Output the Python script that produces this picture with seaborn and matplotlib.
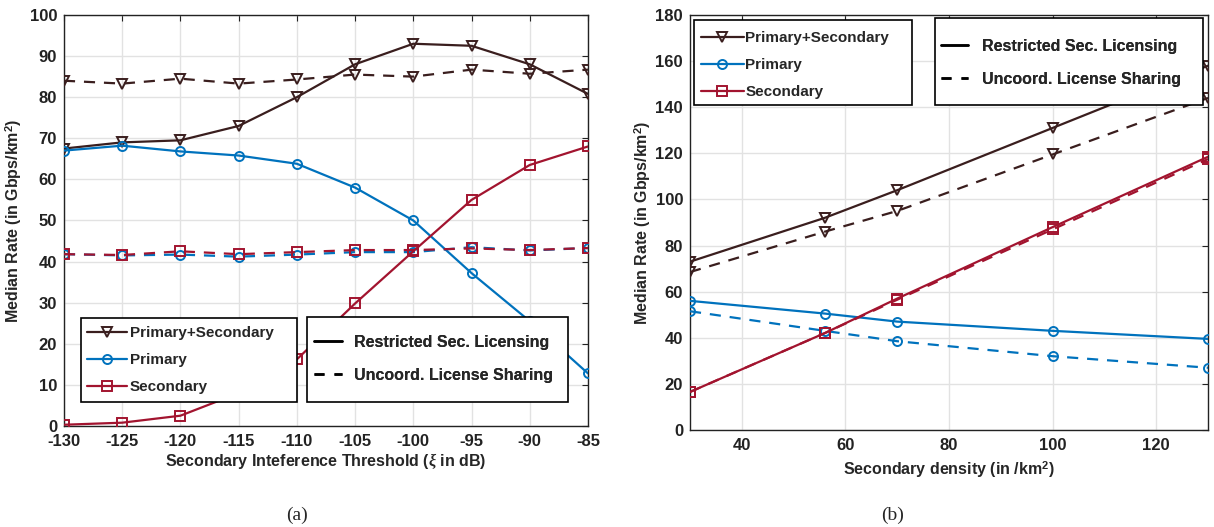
import numpy as np
import pandas as pd
import matplotlib
matplotlib.use('Agg')
import matplotlib.pyplot as plt
import seaborn as sns
from matplotlib.lines import Line2D
from matplotlib.patches import Rectangle

# Dane (a): prog interferencji
thr = [-130, -125, -120, -115, -110, -105, -100, -95, -90, -85]
ps_restr = [67.5, 69.0, 69.5, 73.0, 80.0, 88.0, 93.0, 92.5, 88.0, 80.8]
ps_uncoord = [84.0, 83.3, 84.5, 83.3, 84.3, 85.5, 85.0, 86.7, 85.7, 86.7]
prim_restr = [67.0, 68.2, 66.8, 65.8, 63.8, 58.0, 50.0, 37.2, 25.5, 12.8]
prim_uncoord = [41.8, 41.5, 41.7, 41.2, 41.7, 42.3, 42.3, 43.5, 42.7, 43.3]
sec_restr = [0.3, 0.8, 2.5, 8.0, 16.2, 29.8, 42.5, 55.0, 63.5, 68.0]
sec_uncoord = [41.8, 41.6, 42.5, 41.8, 42.3, 42.8, 42.8, 43.2, 42.8, 43.3]

# Dane (b): gestosc wtornych
dens = [30, 56, 70, 100, 130]
ps_restr_b = [73.0, 92.0, 104.0, 131.0, 158.0]
ps_uncoord_b = [68.5, 86.0, 95.0, 119.5, 144.0]
prim_restr_b = [56.0, 50.5, 47.0, 43.0, 39.5]
prim_uncoord_b = [51.5, 43.0, 38.5, 32.0, 27.0]
sec_restr_b = [16.5, 42.0, 57.0, 88.0, 118.5]
sec_uncoord_b = [16.5, 42.0, 56.5, 87.0, 117.5]

c_ps = '#3a1e1e'
c_prim = '#0072BD'
c_sec = '#A2142F'
DASH = (0, (5, 4))

sns.set_style('white')
plt.rcParams['font.family'] = ['Liberation Sans', 'DejaVu Sans']
plt.rcParams['font.weight'] = 'bold'
plt.rcParams['axes.labelweight'] = 'bold'
plt.rcParams['axes.unicode_minus'] = False
plt.rcParams['mathtext.fontset'] = 'custom'
plt.rcParams['mathtext.rm'] = 'Liberation Sans:bold'
plt.rcParams['mathtext.it'] = 'Liberation Serif:italic'
plt.rcParams['mathtext.bf'] = 'Liberation Sans:bold'

W, H = 1214, 527
fig = plt.figure(figsize=(W / 100, H / 100), dpi=100)
ax1 = fig.add_axes([0.0527, 0.1917, 0.4316, 0.7799])
ax2 = fig.add_axes([0.5684, 0.1841, 0.4267, 0.7875])


def draw(ax, x, series):
    for y, col, ls, mk in series:
        sns.lineplot(x=x, y=y, ax=ax, color=col, linestyle=ls, marker=mk,
                     markersize=6.5, markerfacecolor='none', markeredgecolor=col,
                     markeredgewidth=1.4, linewidth=1.6, zorder=3)


draw(ax1, thr, [
    (ps_restr, c_ps, '-', 'v'), (ps_uncoord, c_ps, DASH, 'v'),
    (prim_restr, c_prim, '-', 'o'), (prim_uncoord, c_prim, DASH, 'o'),
    (sec_restr, c_sec, '-', 's'), (sec_uncoord, c_sec, DASH, 's'),
])
draw(ax2, dens, [
    (ps_restr_b, c_ps, '-', 'v'), (ps_uncoord_b, c_ps, DASH, 'v'),
    (prim_restr_b, c_prim, '-', 'o'), (prim_uncoord_b, c_prim, DASH, 'o'),
    (sec_restr_b, c_sec, '-', 's'), (sec_uncoord_b, c_sec, DASH, 's'),
])

ax1.set_xlim(-130, -85)
ax1.set_ylim(0, 100)
ax1.set_xticks(thr)
ax1.set_yticks(np.arange(0, 101, 10))
ax1.set_xlabel(r'Secondary Inteference Threshold ($\xi$ in dB)', fontsize=11.5, labelpad=1)
ax1.set_ylabel(r'Median Rate (in Gbps/km$^2$)', fontsize=11.5, labelpad=4)

ax2.set_xlim(30, 130)
ax2.set_ylim(0, 180)
ax2.set_xticks([40, 60, 80, 100, 120])
ax2.set_yticks(np.arange(0, 181, 20))
ax2.set_xlabel(r'Secondary density (in /km$^2$)', fontsize=11.5, labelpad=4)
ax2.set_ylabel(r'Median Rate (in Gbps/km$^2$)', fontsize=11.5, labelpad=2)

for ax in (ax1, ax2):
    ax.grid(True, color='#e2e2e2', linewidth=1.0)
    ax.set_axisbelow(True)
    ax.tick_params(direction='in', length=4, width=0.8, top=True, right=True,
                   labelsize=12, colors='#222222')
    ax.tick_params(axis='x', pad=6)
    ax.tick_params(axis='y', pad=5)
    for s in ax.spines.values():
        s.set_visible(True)
        s.set_color('#222222')
        s.set_linewidth(1.0)

mk_handles = [
    Line2D([], [], color=c_ps, marker='v', markerfacecolor='none', lw=1.6, ms=6.5, mew=1.4),
    Line2D([], [], color=c_prim, marker='o', markerfacecolor='none', lw=1.6, ms=6.5, mew=1.4),
    Line2D([], [], color=c_sec, marker='s', markerfacecolor='none', lw=1.6, ms=6.5, mew=1.4),
]
mk_labels = ['Primary+Secondary', 'Primary', 'Secondary']
ls_handles = [Line2D([], [], color='black', lw=1.8, ls='-'),
              Line2D([], [], color='black', lw=1.8, ls=(0, (4, 4)))]
ls_labels = ['Restricted Sec. Licensing', 'Uncoord. License Sharing']


def legend_box(ax, handles, labels, box, anchor, fs, hl, tp, ls):
    # box i anchor w pikselach obrazka (od lewego gornego rogu)
    x0, y0, x1, y1 = box
    rect = Rectangle((x0 / W, 1 - y1 / H), (x1 - x0) / W, (y1 - y0) / H,
                     transform=fig.transFigure, facecolor='white', edgecolor='black',
                     linewidth=1.2, zorder=9, clip_on=False)
    ax.add_artist(rect)
    lg = ax.legend(handles, labels, loc='upper left',
                   bbox_to_anchor=(anchor[0] / W, 1 - anchor[1] / H),
                   bbox_transform=fig.transFigure, frameon=False, fontsize=fs,
                   handlelength=hl, handletextpad=tp, labelspacing=ls,
                   borderpad=0, borderaxespad=0)
    lg.set_zorder(10)
    ax.add_artist(lg)


legend_box(ax1, mk_handles, mk_labels, (81, 318, 297, 402), (87, 326), 11, 2.6, 0.2, 0.85)
legend_box(ax1, ls_handles, ls_labels, (307, 317, 568, 402), (314, 335), 11.5, 1.75, 0.75, 1.1)
legend_box(ax2, mk_handles, mk_labels, (694, 20, 912, 105), (701, 31), 11, 2.8, 0.1, 0.85)
legend_box(ax2, ls_handles, ls_labels, (935, 18, 1203, 105), (941, 39), 11.5, 1.7, 0.85, 1.1)

fig.text(297 / W, 1 - 515 / H, '(a)', family='Liberation Serif', fontsize=14,
         fontweight='normal', ha='center', va='center')
fig.text(893 / W, 1 - 515 / H, '(b)', family='Liberation Serif', fontsize=14,
         fontweight='normal', ha='center', va='center')

fig.savefig('out.png', dpi=100)
